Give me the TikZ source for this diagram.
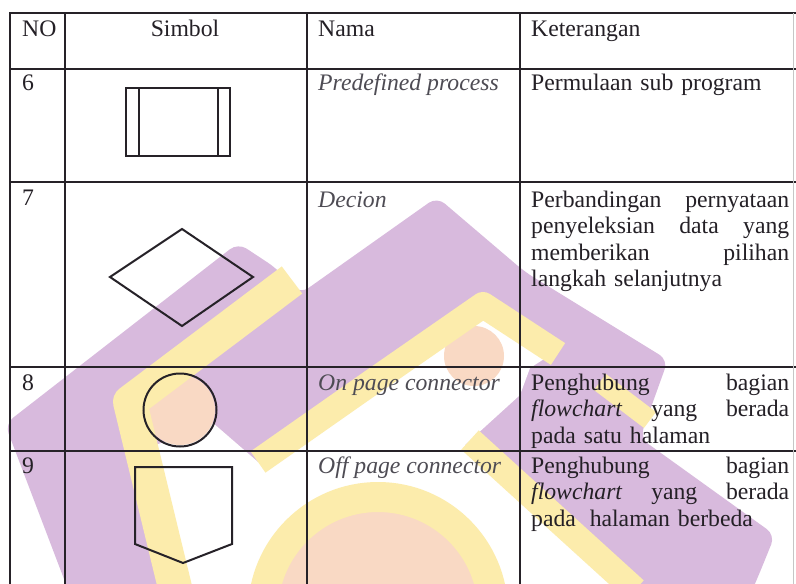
\documentclass[tikz,border=0pt]{standalone}
\usepackage{fontspec}
\setmainfont{Liberation Serif}

\definecolor{wmpurple}{RGB}{216,186,221}
\definecolor{wmyellow}{RGB}{252,236,172}
\definecolor{wmpeach}{RGB}{249,217,196}
\definecolor{rulecol}{RGB}{38,34,40}
\definecolor{ink}{RGB}{36,32,38}
\definecolor{nameink}{RGB}{78,76,84}

\tikzset{
  tabrule/.style={draw=rulecol, line width=2.2pt, line cap=rect},
  symline/.style={draw=rulecol, line width=2pt, line join=miter},
  celltxt/.style={anchor=base west, inner sep=0pt, text=ink,
                  font=\fontsize{23.7}{26.5}\selectfont},
  nametxt/.style={celltxt, text=nameink,
                  font=\fontsize{23.7}{26.5}\selectfont\itshape},
  desctxt/.style={celltxt, text width=258pt, align=left},
}
% one fully justified line of the description column (words split by \hfill)
\newcommand{\jline}[1]{\makebox[258pt][l]{#1}}

\begin{document}
\begin{tikzpicture}[x=1pt,y=-1pt]
\useasboundingbox (0,0) rectangle (796,584);
\fill[white] (0,0) rectangle (796,584);

% ---------------- background logo ----------------
\begin{scope}
\clip (0,0) rectangle (796,584);
% purple body
\fill[wmpurple, rounded corners=10pt]
  (5,424) -- (238,243) -- (276,268) -- (300,294) -- (437,197) -- (525,272)
  -- (668,360) -- (640,438) -- (775,535) -- (760,572) -- (748,600)
  -- (72,600) -- cycle;
% white inner field
\fill[white]
  (178,600) -- (143,450) -- (213,423) -- (258,462) -- (375,380) -- (483,305)
  -- (555,352) -- (530,368) -- (520,395) -- (465,445) -- (640,600) -- cycle;
% peach discs
\fill[wmpeach] (474,356) circle (30);
\fill[wmpeach] (180,410) circle (35);
\fill[wmpeach] (378,612) circle (115);
\draw[wmyellow, line width=30pt] (378,612) circle (115);
% yellow bands
\draw[wmyellow, line width=34pt, line join=round] (292,280) -- (130,402) -- (178,600);
\draw[wmyellow, line width=26pt, line join=round] (258,462) -- (375,380) -- (483,305) -- (558,354);
\draw[wmyellow, line width=20pt] (600,382) -- (650,420);
\draw[wmyellow, line width=26pt] (470,440) -- (635,590);
\end{scope}

% ---------------- table grid ----------------
\draw[tabrule] (10,13) -- (796,13);
\draw[tabrule] (10,69) -- (796,69);
\draw[tabrule] (10,182) -- (796,182);
\draw[tabrule] (10,367) -- (796,367);
\draw[tabrule] (10,451) -- (796,451);
\foreach \x in {10,65,307,520} \draw[tabrule] (\x,13) -- (\x,584);
\draw[gray!45, line width=0.8pt] (793,13) -- (793,584);

% ---------------- header ----------------
\node[celltxt] (hno) at (22,36) {NO};
\node[celltxt, anchor=base] (hsym) at (185,36) {Simbol};
\node[celltxt] (hname) at (318,36) {Nama};
\node[celltxt] (hdesc) at (531,36) {Keterangan};

% ---------------- row 6: predefined process ----------------
\node[celltxt] (n6) at (22,90) {6};
\draw[symline] (126,88) rectangle (230,156);
\draw[symline] (139,88) -- (139,156);
\draw[symline] (218,88) -- (218,156);
\node[nametxt] (m6) at (318,90) {Predefined process};
\node[desctxt] (d6) at (531,90) {Permulaan sub program};

% ---------------- row 7: decision ----------------
\node[celltxt] (n7) at (22,205) {7};
\draw[symline] (110,277) -- (182,229) -- (253,277) -- (182,326) -- cycle;
\node[nametxt] (m7) at (318,207) {Decion};
\node[desctxt] (d7) at (531,207)
  {\jline{Perbandingan\hfill pernyataan}\\
   \jline{penyeleksian\hfill data\hfill yang}\\
   \jline{memberikan\hfill pilihan}\\
   langkah selanjutnya};

% ---------------- row 8: on page connector ----------------
\node[celltxt] (n8) at (22,390) {8};
\draw[symline] (180,410) circle (36.5);
\node[nametxt] (m8) at (318,390) {On page connector};
\node[desctxt] (d8) at (531,390)
  {\jline{Penghubung\hfill bagian}\\
   \jline{\textit{flowchart}\hfill yang\hfill berada}\\
   pada satu halaman};

% ---------------- row 9: off page connector ----------------
\node[celltxt] (n9) at (22,473) {9};
\draw[symline] (135,467) -- (232,467) -- (232,544) -- (183,563) -- (135,544) -- cycle;
\node[nametxt] (m9) at (318,473) {Off page connector};
\node[desctxt] (d9) at (531,473)
  {\jline{Penghubung\hfill bagian}\\
   \jline{\textit{flowchart}\hfill yang\hfill berada}\\
   pada\hspace{0.25em} halaman berbeda};
\end{tikzpicture}
\end{document}
